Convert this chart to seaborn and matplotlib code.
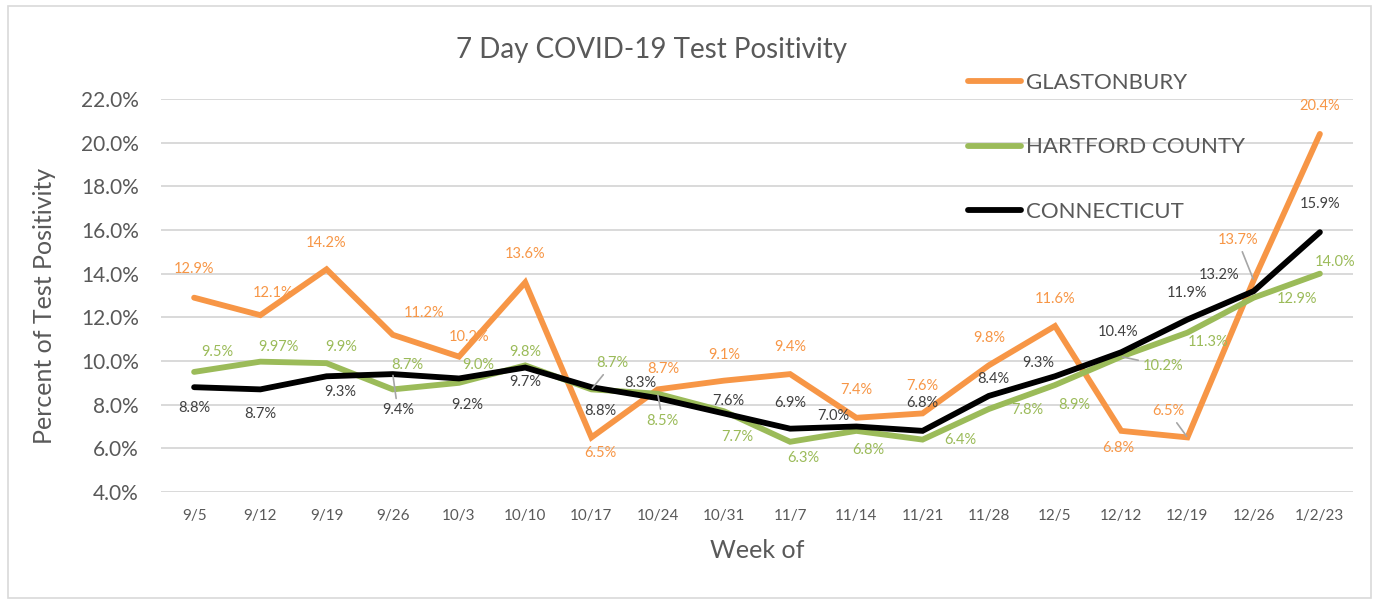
import matplotlib
matplotlib.use("Agg")
import matplotlib.pyplot as plt
import seaborn as sns
import pandas as pd
from matplotlib.patches import Rectangle
from matplotlib.ticker import FuncFormatter

weeks = ["9/5", "9/12", "9/19", "9/26", "10/3", "10/10", "10/17", "10/24", "10/31",
         "11/7", "11/14", "11/21", "11/28", "12/5", "12/12", "12/19", "12/26", "1/2/23"]
glastonbury = [12.9, 12.1, 14.2, 11.2, 10.2, 13.6, 6.5, 8.7, 9.1, 9.4, 7.4, 7.6, 9.8, 11.6, 6.8, 6.5, 13.7, 20.4]
hartford = [9.5, 9.97, 9.9, 8.7, 9.0, 9.8, 8.7, 8.5, 7.7, 6.3, 6.8, 6.4, 7.8, 8.9, 10.2, 11.3, 12.9, 14.0]
connecticut = [8.8, 8.7, 9.3, 9.4, 9.2, 9.7, 8.8, 8.3, 7.6, 6.9, 7.0, 6.8, 8.4, 9.3, 10.4, 11.9, 13.2, 15.9]
glas_labels = ["12.9%", "12.1%", "14.2%", "11.2%", "10.2%", "13.6%", "6.5%", "8.7%", "9.1%", "9.4%",
               "7.4%", "7.6%", "9.8%", "11.6%", "6.8%", "6.5%", "13.7%", "20.4%"]
hart_labels = ["9.5%", "9.97%", "9.9%", "8.7%", "9.0%", "9.8%", "8.7%", "8.5%", "7.7%", "6.3%",
               "6.8%", "6.4%", "7.8%", "8.9%", "10.2%", "11.3%", "12.9%", "14.0%"]
ct_labels = ["8.8%", "8.7%", "9.3%", "9.4%", "9.2%", "9.7%", "8.8%", "8.3%", "7.6%", "6.9%",
             "7.0%", "6.8%", "8.4%", "9.3%", "10.4%", "11.9%", "13.2%", "15.9%"]
series_names = ["GLASTONBURY", "HARTFORD COUNTY", "CONNECTICUT"]

# label offsets in pixels (dx, dy with y pointing down, like screen)
glas_off = [(0, -29), (13, -22), (0, -26), (31, -22), (10, -20), (0, -28), (9, 16), (6, -20), (0, -26),
            (0, -27), (0, -28), (0, -27), (0, -27), (0, -27), (-3, 17), (-19, -26), (-16, -40), (0, -28)]
hart_off = [(23, -20), (18, -15), (15, -16), (15, -24), (19, -18), (0, -13), (21, -26), (5, 27), (13, 26),
            (13, 16), (12, 19), (38, 0), (39, 1), (19, 20), (42, 9), (21, 9), (43, 1), (15, -12)]
ct_off = [(0, 21), (0, 25), (14, 16), (5, 36), (8, 27), (0, 14), (9, 24), (-17, -15), (4, -12),
          (0, -26), (-23, -11), (0, -28), (5, -17), (-17, -13), (-3, -20), (0, -27), (-35, -16), (0, -28)]
glas_lead = {15, 16}
hart_lead = {6, 7, 14}
ct_lead = {3}

ORANGE = "#F79646"
GREEN = "#9BBB59"
BLACK = "#000000"
TXT = "#595959"

sns.set_theme(style="white")
plt.rcParams["font.family"] = ["Lato", "DejaVu Sans"]

df = pd.DataFrame({
    "pos": list(range(len(weeks))) * 3,
    "value": glastonbury + hartford + connecticut,
    "series": [series_names[0]] * len(weeks) + [series_names[1]] * len(weeks) + [series_names[2]] * len(weeks),
})

fig = plt.figure(figsize=(13.74, 6.02), dpi=100)
ax = fig.add_axes([161 / 1374, 1 - 492 / 602, (1353 - 161) / 1374, (492 - 99) / 602])

sns.lineplot(data=df, x="pos", y="value", hue="series", hue_order=series_names,
             palette=[ORANGE, GREEN, BLACK], linewidth=4.2, ax=ax, sort=False,
             legend=True)
for ln in ax.lines:
    ln.set_solid_capstyle("round")
    ln.set_solid_joinstyle("miter")

ax.set_xlim(-0.5, len(weeks) - 0.5)
ax.set_ylim(4, 22)
ax.set_yticks([4, 6, 8, 10, 12, 14, 16, 18, 20, 22])
ax.yaxis.set_major_formatter(FuncFormatter(lambda v, p: f"{v:.1f}%"))
ax.set_xticks(range(len(weeks)))
ax.set_xticklabels(weeks)
ax.tick_params(axis="y", labelsize=15, labelcolor=TXT, pad=16, length=0)
ax.tick_params(axis="x", labelsize=11, labelcolor=TXT, pad=12, length=0)
ax.grid(axis="y", color="#D9D9D9", linewidth=1.4)
ax.set_axisbelow(True)
for s in ax.spines.values():
    s.set_visible(False)
ax.set_xlabel("")
ax.set_ylabel("")


def add_labels(vals, labels, offs, leads, color):
    for i, (v, lab, (dx, dy)) in enumerate(zip(vals, labels, offs)):
        kw = {}
        if i in leads:
            kw["arrowprops"] = dict(arrowstyle="-", color="#A6A6A6", lw=1.2, shrinkA=1, shrinkB=1)
        ax.annotate(lab, xy=(i, v), xytext=(dx, -dy), textcoords="offset pixels",
                    ha="center", va="center", fontsize=10.5, color=color, **kw)


add_labels(glastonbury, glas_labels, glas_off, glas_lead, ORANGE)
add_labels(hartford, hart_labels, hart_off, hart_lead, GREEN)
add_labels(connecticut, ct_labels, ct_off, ct_lead, "#404040")

leg = ax.legend(loc="upper left", bbox_to_anchor=(948 / 1374, 1 - 53 / 602),
                bbox_transform=fig.transFigure, frameon=False, fontsize=16,
                labelspacing=2.0, handlelength=2.4, handletextpad=0.22, labelcolor=TXT)
for h in leg.get_lines():
    h.set_linewidth(4.2)

fig.text(651 / 1374, 1 - 50 / 602, "7 Day COVID-19 Test Positivity", ha="center", va="center",
         fontsize=20, color=TXT)
fig.text(45 / 1374, 1 - 306 / 602, "Percent of Test Positivity", ha="center", va="center",
         rotation=90, fontsize=18, color=TXT)
fig.text(757 / 1374, 1 - 550 / 602, "Week of", ha="center", va="center", fontsize=18, color=TXT)

fig.patches.append(Rectangle((8 / 1374, 4 / 602), 1363 / 1374, 592 / 602, transform=fig.transFigure,
                             fill=False, edgecolor="#D9D9D9", linewidth=1.2))

fig.savefig("out.png", dpi=100)
